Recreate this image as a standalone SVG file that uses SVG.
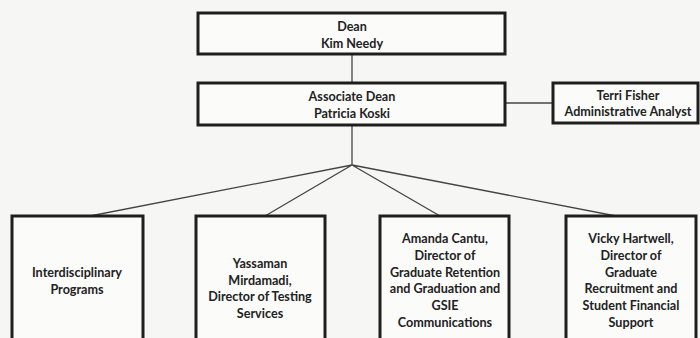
<svg xmlns="http://www.w3.org/2000/svg" width="700" height="338" viewBox="0 0 700 338">
<style>
.box{fill:#fbfbfa;stroke:#1e1e1e;stroke-width:3}
.t{font-family:Lato,"Liberation Sans",Arial,sans-serif;font-weight:bold;font-size:12.6px;fill:#222;text-anchor:middle}
.c{stroke:#444;stroke-width:1.3;fill:none}
</style>
<rect width="700" height="338" fill="#f6f6f4"/>
<g id="connectors">
<line class="c" x1="352" y1="54" x2="352" y2="83"/>
<line class="c" x1="505" y1="103" x2="553" y2="103"/>
<line class="c" x1="352" y1="125" x2="352" y2="165"/>
<polyline class="c" points="90,216 352,165 265,216"/>
<polyline class="c" points="440,216 352,165 616,216"/>
</g>
<g id="dean">
<rect class="box" x="198" y="13" width="307" height="41"/>
<text class="t" x="352" y="31">Dean</text>
<text class="t" x="352" y="48">Kim Needy</text>
</g>
<g id="associate-dean">
<rect class="box" x="198" y="83" width="307" height="42"/>
<text class="t" x="352" y="101">Associate Dean</text>
<text class="t" x="352" y="118">Patricia Koski</text>
</g>
<g id="terri-fisher">
<rect class="box" x="553" y="83" width="145" height="40"/>
<text class="t" x="628" y="100">Terri Fisher</text>
<text class="t" x="628" y="116">Administrative Analyst</text>
</g>
<g id="interdisciplinary">
<rect class="box" x="12" y="216" width="131" height="130"/>
<text class="t" x="77" y="277">Interdisciplinary</text>
<text class="t" x="77" y="294">Programs</text>
</g>
<g id="testing">
<rect class="box" x="196" y="216" width="129" height="130"/>
<text class="t" x="260" y="268">Yassaman</text>
<text class="t" x="260" y="285">Mirdamadi,</text>
<text class="t" x="260" y="301">Director of Testing</text>
<text class="t" x="260" y="318">Services</text>
</g>
<g id="retention">
<rect class="box" x="380" y="216" width="129" height="130"/>
<text class="t" x="445" y="243">Amanda Cantu,</text>
<text class="t" x="445" y="260">Director of</text>
<text class="t" x="445" y="277">Graduate Retention</text>
<text class="t" x="445" y="293">and Graduation and</text>
<text class="t" x="445" y="310">GSIE</text>
<text class="t" x="445" y="327">Communications</text>
</g>
<g id="recruitment">
<rect class="box" x="566" y="216" width="130" height="130"/>
<text class="t" x="631" y="243">Vicky Hartwell,</text>
<text class="t" x="631" y="260">Director of</text>
<text class="t" x="631" y="277">Graduate</text>
<text class="t" x="631" y="293">Recruitment and</text>
<text class="t" x="631" y="310">Student Financial</text>
<text class="t" x="631" y="327">Support</text>
</g>
</svg>
